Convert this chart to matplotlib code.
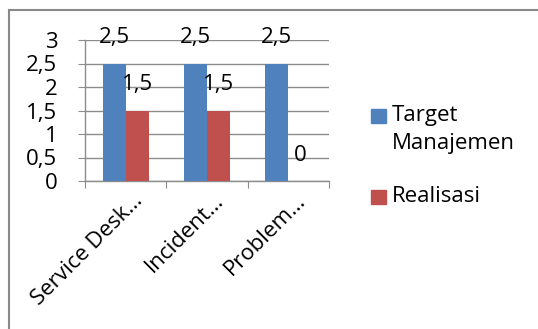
import matplotlib.pyplot as plt
from matplotlib.patches import Rectangle
import numpy as np

plt.rcParams['font.family'] = ['Open Sans', 'DejaVu Sans']

# --- chart data ---
categories = ["Service Desk\u2026", "Incident\u2026", "Problem\u2026"]
target = [2.5, 2.5, 2.5]
realisasi = [1.5, 1.5, 0]
series_names = ["Target\nManajemen", "Realisasi"]
y_ticks = [0, 0.5, 1, 1.5, 2, 2.5, 3]

BLUE = '#4f81bd'
RED = '#c0504d'
GRID = '#8c8c8c'
FS = 16


def fmt(v):
    # Indonesian style decimals: comma separator
    return f"{v:g}".replace('.', ',')


fig = plt.figure(figsize=(5.38, 3.29), dpi=100)

# outer chart border (cut off at right and bottom like the screenshot)
fig.patches.append(Rectangle((9 / 538, -0.1), 1.0, 1 - 10 / 329 + 0.1,
                             transform=fig.transFigure, fill=False,
                             edgecolor='#898989', linewidth=1.5))

ax = fig.add_axes([85 / 538, 148 / 329, 244 / 538, 141 / 329])

x = np.arange(len(categories))
w = 0.284
ax.bar(x - w / 2, target, w, color=BLUE, zorder=3)
ax.bar(x + w / 2, realisasi, w, color=RED, zorder=3)

for xi, v in zip(x - w / 2, target):
    ax.text(xi, v + 0.55, fmt(v), ha='center', va='center', fontsize=FS, clip_on=False)
for xi, v in zip(x + w / 2, realisasi):
    ax.text(xi, v + 0.55, fmt(v), ha='center', va='center', fontsize=FS, clip_on=False)

ax.set_xlim(-0.5, len(categories) - 0.5)
ax.set_ylim(0, 3)
ax.set_yticks(y_ticks)
ax.set_yticklabels([fmt(t) for t in y_ticks], fontsize=FS)
ax.yaxis.grid(True, color=GRID, linewidth=1)
ax.set_axisbelow(True)

# category boundaries get the tick marks, labels sit under the centres
ax.set_xticks(np.arange(-0.5, len(categories), 1.0))
ax.set_xticklabels([])
ax.tick_params(axis='x', length=5, color=GRID, direction='out')
ax.tick_params(axis='y', length=5, color=GRID, pad=15)
for xi, lab in zip(x, categories):
    ax.annotate(lab, xy=(xi, 0), xycoords=('data', 'axes fraction'),
                xytext=(10, -12), textcoords='offset points',
                rotation=45, rotation_mode='anchor', ha='right', va='center',
                fontsize=FS)

for s in ['top', 'right']:
    ax.spines[s].set_visible(False)
for s in ['left', 'bottom']:
    ax.spines[s].set_color(GRID)
    ax.spines[s].set_linewidth(1)

# legend drawn by hand so the swatch lines up with the first text line
sw = 15 / 538
sh = 14 / 329
legend_y = [1 - 116 / 329, 1 - 197 / 329]
for (name, col, ly) in zip(series_names, [BLUE, RED], legend_y):
    fig.patches.append(Rectangle((371 / 538, ly - sh / 2), sw, sh,
                                 transform=fig.transFigure, color=col))
    fig.text(392 / 538, ly + 11 / 329, name, ha='left', va='top', fontsize=FS,
             linespacing=1.45)

fig.savefig('out.png', dpi=100)
